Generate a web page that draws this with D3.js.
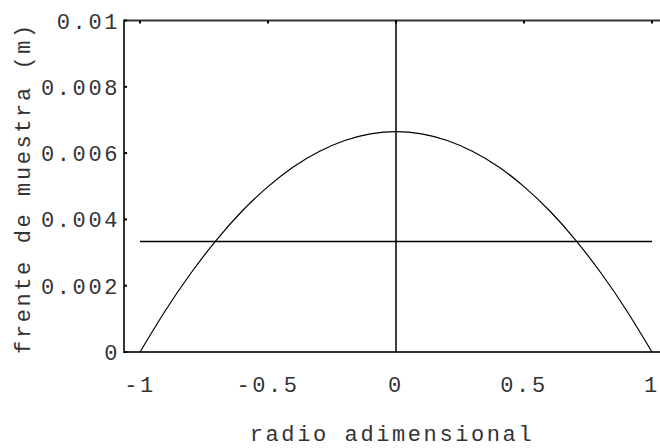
<!DOCTYPE html>
<html>
<head>
<meta charset="utf-8">
<script src="https://cdn.jsdelivr.net/npm/d3@7"></script>
<style>
  body { margin: 0; background: #fff; }
  text { font-family: "Liberation Mono", "DejaVu Sans Mono", monospace; font-size: 22px; letter-spacing: 2.6px; fill: #333; }
</style>
</head>
<body>
<svg width="660" height="448"></svg>
<script>
// radio adimensional vs frente de muestra (m)
var radio  = [-1, -0.9, -0.8, -0.7, -0.6, -0.5, -0.4, -0.3, -0.2, -0.1, 0,
              0.1, 0.2, 0.3, 0.4, 0.5, 0.6, 0.7, 0.8, 0.9, 1];
var frente = [0, 0.00126, 0.00239, 0.00339, 0.00426, 0.00499, 0.00559, 0.00605, 0.00638, 0.00658, 0.00665,
              0.00658, 0.00638, 0.00605, 0.00559, 0.00499, 0.00426, 0.00339, 0.00239, 0.00126, 0];
var mitad = 0.00333;   // horizontal reference line
var xTicks = [-1, -0.5, 0, 0.5, 1];
var yTicks = [0, 0.002, 0.004, 0.006, 0.008, 0.01];
var yTickLabels = ["0", "0.002", "0.004", "0.006", "0.008", "0.01"];

var svg = d3.select("svg"),
    width = +svg.attr("width"),
    height = +svg.attr("height");

var x = d3.scaleLinear().domain([-1, 1]).range([140, 652]);
var y = d3.scaleLinear().domain([0, 0.01]).range([352, 20.5]);

var left = 124, right = width;

// frame (left, top, bottom)
svg.append("path")
    .attr("d", "M" + right + "," + y(0.01) + "H" + left + "V" + y(0) + "H" + right)
    .attr("fill", "none")
    .attr("stroke", "#333")
    .attr("stroke-width", 2);

// ticks on top edge
svg.append("g").selectAll("line")
    .data(xTicks)
    .enter().append("line")
    .attr("x1", function(d) { return x(d); })
    .attr("x2", function(d) { return x(d); })
    .attr("y1", y(0.01))
    .attr("y2", y(0.01) + 3)
    .attr("stroke", "#000")
    .attr("stroke-width", 2);

// ticks on left edge
svg.append("g").selectAll("line")
    .data(yTicks)
    .enter().append("line")
    .attr("x1", left)
    .attr("x2", left + 3)
    .attr("y1", function(d) { return y(d); })
    .attr("y2", function(d) { return y(d); })
    .attr("stroke", "#000")
    .attr("stroke-width", 2);

// x tick labels
svg.append("g").selectAll("text")
    .data(xTicks)
    .enter().append("text")
    .attr("x", function(d) { return x(d); })
    .attr("y", 392)
    .attr("text-anchor", "middle")
    .text(function(d) { return d < 0 ? "-" + Math.abs(d) : d; });

// y tick labels
svg.append("g").selectAll("text")
    .data(yTicks)
    .enter().append("text")
    .attr("x", 120)
    .attr("y", function(d) { return y(d) + 8; })
    .attr("text-anchor", "end")
    .text(function(d, i) { return yTickLabels[i]; });

// vertical line at r = 0
svg.append("line")
    .attr("x1", x(0)).attr("x2", x(0))
    .attr("y1", y(0.01)).attr("y2", y(0))
    .attr("stroke", "#000")
    .attr("stroke-width", 1.5);

// horizontal line
svg.append("line")
    .attr("x1", x(-1)).attr("x2", x(1))
    .attr("y1", y(mitad)).attr("y2", y(mitad))
    .attr("stroke", "#000")
    .attr("stroke-width", 1.5);

// curve
var line = d3.line()
    .x(function(d, i) { return x(radio[i]); })
    .y(function(d) { return y(d); })
    .curve(d3.curveNatural);

svg.append("path")
    .datum(frente)
    .attr("d", line)
    .attr("fill", "none")
    .attr("stroke", "#000")
    .attr("stroke-width", 1.2);

// axis titles
svg.append("text")
    .attr("x", 392)
    .attr("y", 441)
    .attr("text-anchor", "middle")
    .text("radio adimensional");

svg.append("text")
    .attr("transform", "translate(30," + 188 + ") rotate(-90)")
    .attr("text-anchor", "middle")
    .text("frente de muestra (m)");
</script>
</body>
</html>
